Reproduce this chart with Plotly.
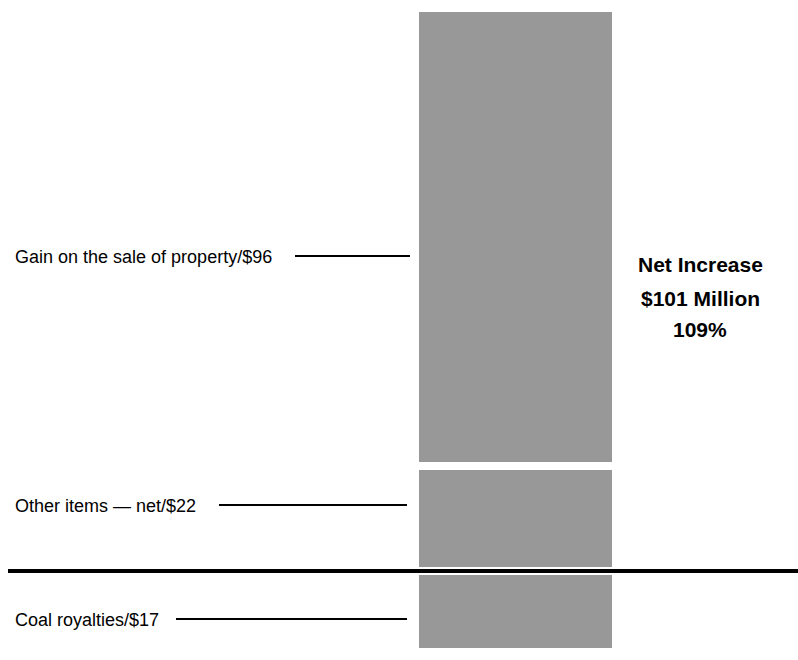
import plotly.graph_objects as go

# Components of the change in net income ($ millions)
items = ["Gain on the sale of property", "Other items — net", "Coal royalties"]
amounts = [96, 22, -17]
net_lines = ["Net Increase", "$101 Million", "109%"]

W, H = 798, 660
FONT = "Liberation Sans, Arial, sans-serif"
BAR_GRAY = "#989898"

fig = go.Figure()

# Positive components stack upward from zero; the negative one hangs below
fig.add_trace(go.Bar(x=[0], y=[amounts[1]], base=[0], width=[1],
                     marker=dict(color=BAR_GRAY, line=dict(color="white", width=8)),
                     hoverinfo="skip", showlegend=False))
fig.add_trace(go.Bar(x=[0], y=[amounts[0]], base=[amounts[1]], width=[1],
                     marker=dict(color=BAR_GRAY, line=dict(color="white", width=8)),
                     hoverinfo="skip", showlegend=False))
fig.add_trace(go.Bar(x=[0], y=[amounts[2]], base=[0], width=[1],
                     marker=dict(color=BAR_GRAY, line=dict(color="white", width=8)),
                     hoverinfo="skip", showlegend=False))

# Zero baseline
fig.add_shape(type="line", xref="paper", yref="y", x0=8 / W, x1=1, y0=0, y1=0,
              line=dict(color="black", width=4), layer="above")


def py(p):
    return 1 - p / H


def px(p):
    return p / W


# Item labels with leader lines
labels = [
    (f"{items[0]}/${amounts[0]}", 257, 295, 410),
    (f"{items[1]}/${amounts[1]}", 506, 219, 407),
    (f"{items[2]}/${abs(amounts[2])}", 620, 176, 407),
]
for text, yy, lx0, lx1 in labels:
    fig.add_annotation(text=text, xref="paper", yref="paper", x=px(13), y=py(yy),
                       xanchor="left", yanchor="middle", showarrow=False,
                       font=dict(family=FONT, size=18, color="black"))
    fig.add_shape(type="line", xref="paper", yref="paper",
                  x0=px(lx0), x1=px(lx1), y0=py(yy - 1), y1=py(yy - 1),
                  line=dict(color="black", width=2))

# Net result callout
for text, yy in zip(net_lines, [264, 298, 329]):
    fig.add_annotation(text=f"<b>{text}</b>", xref="paper", yref="paper",
                       x=px(700), y=py(yy), xanchor="center", yanchor="middle",
                       showarrow=False, font=dict(family=FONT, size=21, color="black"))

fig.update_layout(
    width=W, height=H, margin=dict(l=0, r=0, t=0, b=0),
    paper_bgcolor="white", plot_bgcolor="white",
    barmode="overlay", bargap=0,
    xaxis=dict(range=[-2.5647, 1.4055], visible=False, fixedrange=True),
    yaxis=dict(range=[-18.65, 119.68], visible=False, fixedrange=True),
)

fig.write_html("out.html")
